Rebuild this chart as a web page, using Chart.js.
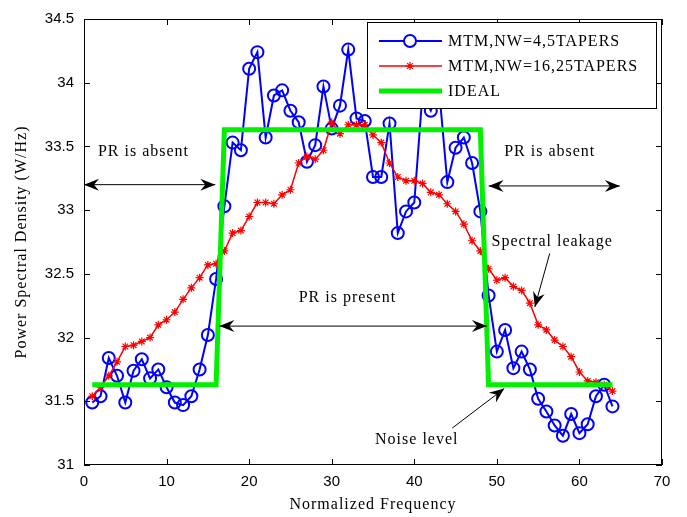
<!DOCTYPE html>
<html>
<head>
<meta charset="utf-8">
<script src="https://cdn.jsdelivr.net/npm/chart.js@4.4.0/dist/chart.umd.min.js"></script>
<style>
  html, body { margin: 0; padding: 0; background: #fff; }
  canvas { display: block; }
</style>
</head>
<body>
<canvas id="psdChart" width="687" height="517"></canvas>
<script>
// normalized frequency bins
const freq = [1, 2, 3, 4, 5, 6, 7, 8, 9, 10, 11, 12, 13, 14, 15, 16,
              17, 18, 19, 20, 21, 22, 23, 24, 25, 26, 27, 28, 29, 30, 31, 32,
              33, 34, 35, 36, 37, 38, 39, 40, 41, 42, 43, 44, 45, 46, 47, 48,
              49, 50, 51, 52, 53, 54, 55, 56, 57, 58, 59, 60, 61, 62, 63, 64];

// MTM, NW=4, 5 tapers
const mtm4 = [31.49, 31.54, 31.84, 31.70, 31.49, 31.74, 31.83, 31.68, 31.75, 31.61, 31.49, 31.47, 31.54, 31.75, 32.02, 32.46,
              33.03, 33.53, 33.47, 34.11, 34.24, 33.57, 33.90, 33.94, 33.78, 33.69, 33.38, 33.51, 33.97, 33.64, 33.82, 34.26,
              33.72, 33.70, 33.26, 33.26, 33.68, 32.82, 32.99, 33.06, 33.92, 33.78, 33.95, 33.22, 33.49, 33.57, 33.37, 32.99,
              32.33, 31.89, 32.06, 31.76, 31.89, 31.75, 31.52, 31.42, 31.31, 31.23, 31.40, 31.25, 31.32, 31.54, 31.63, 31.46];

// MTM, NW=16, 25 tapers
const mtm16 = [31.54, 31.61, 31.70, 31.81, 31.93, 31.94, 31.97, 32.00, 32.10, 32.14, 32.20, 32.30, 32.39, 32.47, 32.57, 32.58,
               32.68, 32.82, 32.84, 32.95, 33.06, 33.06, 33.05, 33.12, 33.16, 33.37, 33.42, 33.40, 33.47, 33.69, 33.60, 33.67,
               33.67, 33.67, 33.59, 33.53, 33.37, 33.26, 33.23, 33.23, 33.21, 33.14, 33.12, 33.05, 32.99, 32.89, 32.76, 32.68,
               32.54, 32.45, 32.47, 32.40, 32.37, 32.27, 32.10, 32.06, 31.98, 31.93, 31.85, 31.73, 31.66, 31.65, 31.63, 31.58];

// ideal spectrum (PR present between bins 17 and 48)
const ideal = [31.63, 31.63, 31.63, 31.63, 31.63, 31.63, 31.63, 31.63, 31.63, 31.63, 31.63, 31.63, 31.63, 31.63, 31.63, 31.63,
               33.63, 33.63, 33.63, 33.63, 33.63, 33.63, 33.63, 33.63, 33.63, 33.63, 33.63, 33.63, 33.63, 33.63, 33.63, 33.63,
               33.63, 33.63, 33.63, 33.63, 33.63, 33.63, 33.63, 33.63, 33.63, 33.63, 33.63, 33.63, 33.63, 33.63, 33.63, 33.63,
               31.63, 31.63, 31.63, 31.63, 31.63, 31.63, 31.63, 31.63, 31.63, 31.63, 31.63, 31.63, 31.63, 31.63, 31.63, 31.63];

const xTicks = [0, 10, 20, 30, 40, 50, 60, 70];
const yTicks = [31, 31.5, 32, 32.5, 33, 33.5, 34, 34.5];
const xTitle = 'Normalized Frequency';
const yTitle = 'Power Spectral Density (W/Hz)';

// text notes and arrows, in data coordinates
const notes = [
    { text: 'PR is absent', x: 7.2, y: 33.46 },
    { text: 'PR is absent', x: 56.4, y: 33.46 },
    { text: 'PR is present', x: 31.9, y: 32.31 },
    { text: 'Spectral leakage', x: 56.7, y: 32.75 },
    { text: 'Noise level', x: 40.3, y: 31.20 }
];
const arrows = [
    { from: [0, 33.20], to: [15.9, 33.20], both: true },
    { from: [49.0, 33.19], to: [64.9, 33.19], both: true },
    { from: [16.4, 32.09], to: [48.8, 32.09], both: true },
    { from: [56.4, 32.66], to: [54.6, 32.24], both: false },
    { from: [44.6, 31.29], to: [50.9, 31.60], both: false }
];

const serif = '16px "Liberation Serif", "Times New Roman", serif';
const toPoints = vals => freq.map((f, i) => ({ x: f, y: vals[i] }));

function arrowHead(ctx, x1, y1, x2, y2) {
    const ang = Math.atan2(y2 - y1, x2 - x1);
    const len = 15, half = 6, notch = 10;
    ctx.save();
    ctx.translate(x2, y2);
    ctx.rotate(ang);
    ctx.beginPath();
    ctx.moveTo(0, 0);
    ctx.lineTo(-len, -half);
    ctx.lineTo(-notch, 0);
    ctx.lineTo(-len, half);
    ctx.closePath();
    ctx.fill();
    ctx.restore();
}

const framePlugin = {
    id: 'framePlugin',
    afterDatasetsDraw(chart) {
        const { ctx, chartArea: a, scales: { x, y } } = chart;
        ctx.save();
        ctx.strokeStyle = '#000';
        ctx.lineWidth = 1;
        ctx.strokeRect(a.left + 0.5, a.top + 0.5, a.width - 1, a.height - 1);
        ctx.beginPath();
        xTicks.forEach(v => {
            const px = Math.round(x.getPixelForValue(v)) + 0.5;
            ctx.moveTo(px, a.bottom); ctx.lineTo(px, a.bottom - 6);
            ctx.moveTo(px, a.top); ctx.lineTo(px, a.top + 6);
        });
        yTicks.forEach(v => {
            const py = Math.round(y.getPixelForValue(v)) + 0.5;
            ctx.moveTo(a.left, py); ctx.lineTo(a.left + 6, py);
            ctx.moveTo(a.right, py); ctx.lineTo(a.right - 6, py);
        });
        ctx.stroke();

        // notes and arrows
        ctx.fillStyle = '#000';
        ctx.font = serif;
        ctx.letterSpacing = '1px';
        ctx.textAlign = 'center';
        ctx.textBaseline = 'middle';
        notes.forEach(n => ctx.fillText(n.text, x.getPixelForValue(n.x), y.getPixelForValue(n.y)));
        arrows.forEach(ar => {
            const x1 = x.getPixelForValue(ar.from[0]), y1 = y.getPixelForValue(ar.from[1]);
            const x2 = x.getPixelForValue(ar.to[0]), y2 = y.getPixelForValue(ar.to[1]);
            ctx.beginPath();
            ctx.moveTo(x1, y1); ctx.lineTo(x2, y2);
            ctx.stroke();
            arrowHead(ctx, x1, y1, x2, y2);
            if (ar.both) arrowHead(ctx, x2, y2, x1, y1);
        });

        // axis titles
        ctx.fillText(xTitle, (a.left + a.right) / 2, 505);
        ctx.save();
        ctx.translate(22, (a.top + a.bottom) / 2);
        ctx.rotate(-Math.PI / 2);
        ctx.fillText(yTitle, 0, 0);
        ctx.restore();

        // legend box, top right inside the axes
        const bx = a.right - 295, by = a.top + 3, bw = 289, bh = 86;
        ctx.fillStyle = '#fff';
        ctx.fillRect(bx, by, bw, bh);
        ctx.strokeRect(bx + 0.5, by + 0.5, bw, bh);
        ctx.textAlign = 'left';
        chart.data.datasets.forEach((ds, i) => {
            const ly = by + 19 + i * 25;
            const lx = bx + 12;
            ctx.strokeStyle = ds.borderColor;
            ctx.lineWidth = ds.borderWidth;
            ctx.beginPath();
            ctx.moveTo(lx, ly); ctx.lineTo(lx + 63, ly);
            ctx.stroke();
            if (ds.pointRadius > 0) {
                ctx.lineWidth = ds.pointBorderWidth;
                Chart.helpers.drawPoint(ctx, {
                    pointStyle: ds.pointStyle, radius: ds.pointRadius,
                    borderWidth: ds.pointBorderWidth, rotation: 0
                }, lx + 31, ly);
            }
            ctx.fillStyle = '#000';
            ctx.fillText(ds.label, lx + 69, ly + 1);
        });
        ctx.restore();
    }
};

const ctx = document.getElementById('psdChart').getContext('2d');
new Chart(ctx, {
    type: 'line',
    data: {
        datasets: [
            {
                label: 'MTM,NW=4,5TAPERS',
                data: toPoints(mtm4),
                order: 2,
                borderColor: '#0000ff',
                backgroundColor: 'rgba(0,0,0,0)',
                borderWidth: 2,
                pointStyle: 'circle',
                pointRadius: 6,
                pointBorderWidth: 2,
                pointBorderColor: '#0000ff',
                pointBackgroundColor: 'rgba(0,0,0,0)',
                tension: 0
            },
            {
                label: 'MTM,NW=16,25TAPERS',
                data: toPoints(mtm16),
                order: 1,
                borderColor: '#ff0000',
                backgroundColor: '#ff0000',
                borderWidth: 1.5,
                pointStyle: 'star',
                pointRadius: 4,
                pointBorderWidth: 1.2,
                pointBorderColor: '#ff0000',
                tension: 0
            },
            {
                label: 'IDEAL',
                data: toPoints(ideal),
                order: 0,
                borderColor: '#00f000',
                borderWidth: 5,
                pointRadius: 0,
                tension: 0
            }
        ]
    },
    options: {
        responsive: false,
        animation: false,
        layout: { padding: { top: 12, right: 25, left: 0, bottom: 0 } },
        plugins: {
            legend: { display: false },
            tooltip: { enabled: false }
        },
        scales: {
            x: {
                type: 'linear',
                min: 0,
                max: 70,
                afterFit: s => { s.height = 52; },
                afterBuildTicks: s => { s.ticks = xTicks.map(v => ({ value: v })); },
                grid: { display: false, drawTicks: false },
                border: { display: false },
                ticks: {
                    padding: 8,
                    color: '#000',
                    font: { family: '"Liberation Sans", Arial, sans-serif', size: 15 }
                }
            },
            y: {
                min: 31,
                max: 34.5,
                afterFit: s => { s.width = 84; },
                afterBuildTicks: s => { s.ticks = yTicks.map(v => ({ value: v })); },
                grid: { display: false, drawTicks: false },
                border: { display: false },
                ticks: {
                    padding: 10,
                    color: '#000',
                    font: { family: '"Liberation Sans", Arial, sans-serif', size: 15 },
                    callback: v => String(v)
                }
            }
        }
    },
    plugins: [framePlugin]
});
</script>
</body>
</html>
